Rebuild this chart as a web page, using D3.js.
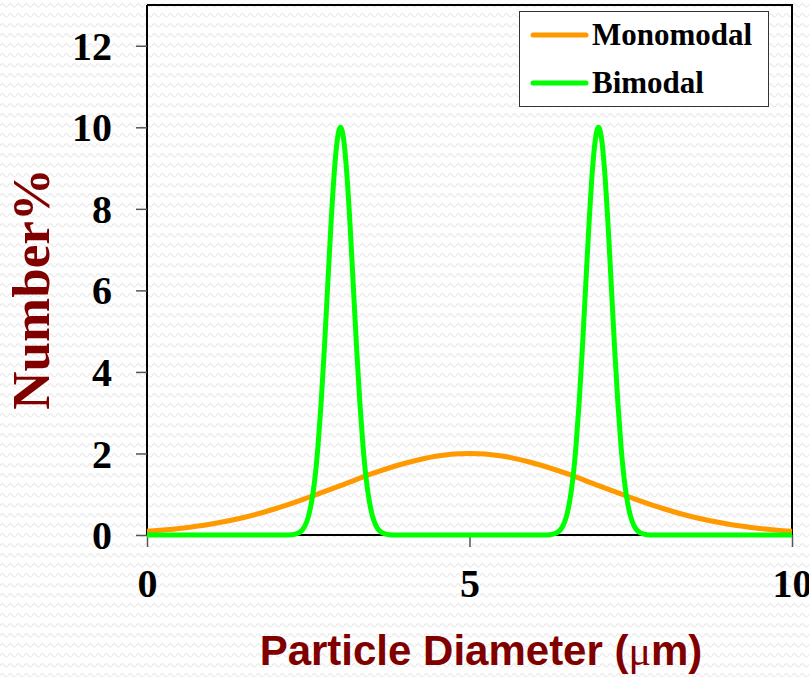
<!DOCTYPE html>
<html>
<head>
<meta charset="utf-8">
<script src="https://cdn.jsdelivr.net/npm/d3@7"></script>
<style>
  html, body { margin: 0; padding: 0; background: #fff; }
  svg { display: block; }
</style>
</head>
<body>
<svg id="chart" width="809" height="677"></svg>
<script>
// Particle size distributions (Number % vs diameter in µm)
const monoX = [0, 0.5, 1, 1.5, 2, 2.5, 3, 3.5, 4, 4.5, 5, 5.5, 6, 6.5, 7, 7.5, 8, 8.5, 9, 9.5, 10];
const monoY = [0.09, 0.16, 0.27, 0.43, 0.65, 0.92, 1.21, 1.51, 1.76, 1.94, 2.0, 1.94, 1.76, 1.51, 1.21, 0.92, 0.65, 0.43, 0.27, 0.16, 0.09];

const biX = [0, 2.2, 2.3, 2.4, 2.45, 2.5, 2.55, 2.6, 2.65, 2.7, 2.75, 2.8, 2.85, 2.9, 2.95, 3.0,
             3.05, 3.1, 3.15, 3.2, 3.25, 3.3, 3.35, 3.4, 3.45, 3.5, 3.55, 3.6, 3.7, 3.8,
             6.2, 6.3, 6.4, 6.45, 6.5, 6.55, 6.6, 6.65, 6.7, 6.75, 6.8, 6.85, 6.9, 6.95, 7.0,
             7.05, 7.1, 7.15, 7.2, 7.25, 7.3, 7.35, 7.4, 7.45, 7.5, 7.55, 7.6, 7.7, 7.8, 10];
const biY = [0, 0, 0.02, 0.11, 0.23, 0.44, 0.8, 1.35, 2.16, 3.25, 4.58, 6.07, 7.55, 8.82, 9.69, 10,
             9.69, 8.82, 7.55, 6.07, 4.58, 3.25, 2.16, 1.35, 0.8, 0.44, 0.23, 0.11, 0.02, 0,
             0, 0.02, 0.11, 0.23, 0.44, 0.8, 1.35, 2.16, 3.25, 4.58, 6.07, 7.55, 8.82, 9.69, 10,
             9.69, 8.82, 7.55, 6.07, 4.58, 3.25, 2.16, 1.35, 0.8, 0.44, 0.23, 0.11, 0.02, 0, 0];

const xTicks = [0, 5, 10];
const yTicks = [0, 2, 4, 6, 8, 10, 12];
const seriesNames = ["Monomodal", "Bimodal"];
const seriesColors = ["#ff9900", "#00ff00"];

const svg = d3.select("#chart");

// faint wavy background texture
const defs = svg.append("defs");
const pat = defs.append("pattern")
  .attr("id", "wave").attr("patternUnits", "userSpaceOnUse")
  .attr("width", 8).attr("height", 10);
pat.append("path")
  .attr("d", "M0,6 Q2,2 4,5 T8,6")
  .attr("fill", "none").attr("stroke", "#ededed").attr("stroke-width", 1.4);
svg.append("rect").attr("width", 809).attr("height", 677).attr("fill", "#fff");
svg.append("rect").attr("width", 809).attr("height", 677).attr("fill", "url(#wave)");

const x = d3.scaleLinear().domain([0, 10]).range([147, 792]);
const y = d3.scaleLinear().domain([0, 13]).range([535, 5]);

const serif = "'Liberation Serif', 'Times New Roman', serif";
const sans = "'Liberation Sans', Arial, sans-serif";

// plot frame (top and right edges)
svg.append("path")
  .attr("d", `M${x(0)},${y(13)}H${x(10)}V${y(0)}`)
  .attr("fill", "none").attr("stroke", "#000").attr("stroke-width", 2);

// axes
const yAxis = svg.append("g").attr("transform", `translate(${x(0)},0)`)
  .call(d3.axisLeft(y).tickValues(yTicks).tickSize(11).tickPadding(24).tickFormat(d3.format("d")));
const xAxis = svg.append("g").attr("transform", `translate(0,${y(0)})`)
  .call(d3.axisBottom(x).tickValues(xTicks).tickSize(12).tickPadding(22).tickFormat(d3.format("d")));

[xAxis, yAxis].forEach(g => {
  g.select(".domain").attr("stroke", "#000").attr("stroke-width", 2);
  g.selectAll(".tick line").attr("stroke", "#555").attr("stroke-width", 1.5);
  g.selectAll(".tick text")
    .attr("fill", "#000").attr("font-family", serif)
    .attr("font-weight", "bold").attr("font-size", 40);
});
yAxis.select(".domain").attr("d", `M0,${y(13)}V${y(0)}`);
xAxis.select(".domain").attr("d", `M${x(0)},0H${x(10)}`);
yAxis.selectAll(".tick text").attr("dy", "0.34em");
xAxis.selectAll(".tick text").attr("dy", "0.71em");

// curves
const line = d3.line().x(d => x(d[0])).y(d => y(d[1])).curve(d3.curveMonotoneX);
const series = [
  d3.zip(monoX, monoY),
  d3.zip(biX, biY)
];
series.forEach((pts, i) => {
  svg.append("path").datum(pts)
    .attr("d", line)
    .attr("fill", "none")
    .attr("stroke", seriesColors[i])
    .attr("stroke-width", 5)
    .attr("stroke-linejoin", "round");
});

// legend
const lg = svg.append("g");
lg.append("rect").attr("x", 519.5).attr("y", 11.5).attr("width", 249).attr("height", 95)
  .attr("fill", "#fff").attr("stroke", "#333").attr("stroke-width", 1);
seriesNames.forEach((name, i) => {
  const ly = 35 + i * 48;
  lg.append("line").attr("x1", 533).attr("x2", 586).attr("y1", ly).attr("y2", ly)
    .attr("stroke", seriesColors[i]).attr("stroke-width", 5).attr("stroke-linecap", "round");
  lg.append("text").attr("x", 592).attr("y", ly + 10)
    .attr("font-family", serif).attr("font-weight", "bold").attr("font-size", 31)
    .attr("fill", "#000").text(name);
});

// axis titles
svg.append("text")
  .attr("transform", `translate(49,289) rotate(-90)`)
  .attr("text-anchor", "middle")
  .attr("font-family", serif).attr("font-weight", "bold").attr("font-size", 53)
  .attr("fill", "#800000").text("Number%");

const xt = svg.append("text")
  .attr("x", 481).attr("y", 665)
  .attr("text-anchor", "middle")
  .attr("font-family", sans).attr("font-weight", "bold").attr("font-size", 42)
  .attr("fill", "#800000");
xt.append("tspan").text("Particle Diameter (");
xt.append("tspan").attr("font-family", serif).attr("font-weight", "normal").text("μ");
xt.append("tspan").text("m)");
</script>
</body>
</html>
